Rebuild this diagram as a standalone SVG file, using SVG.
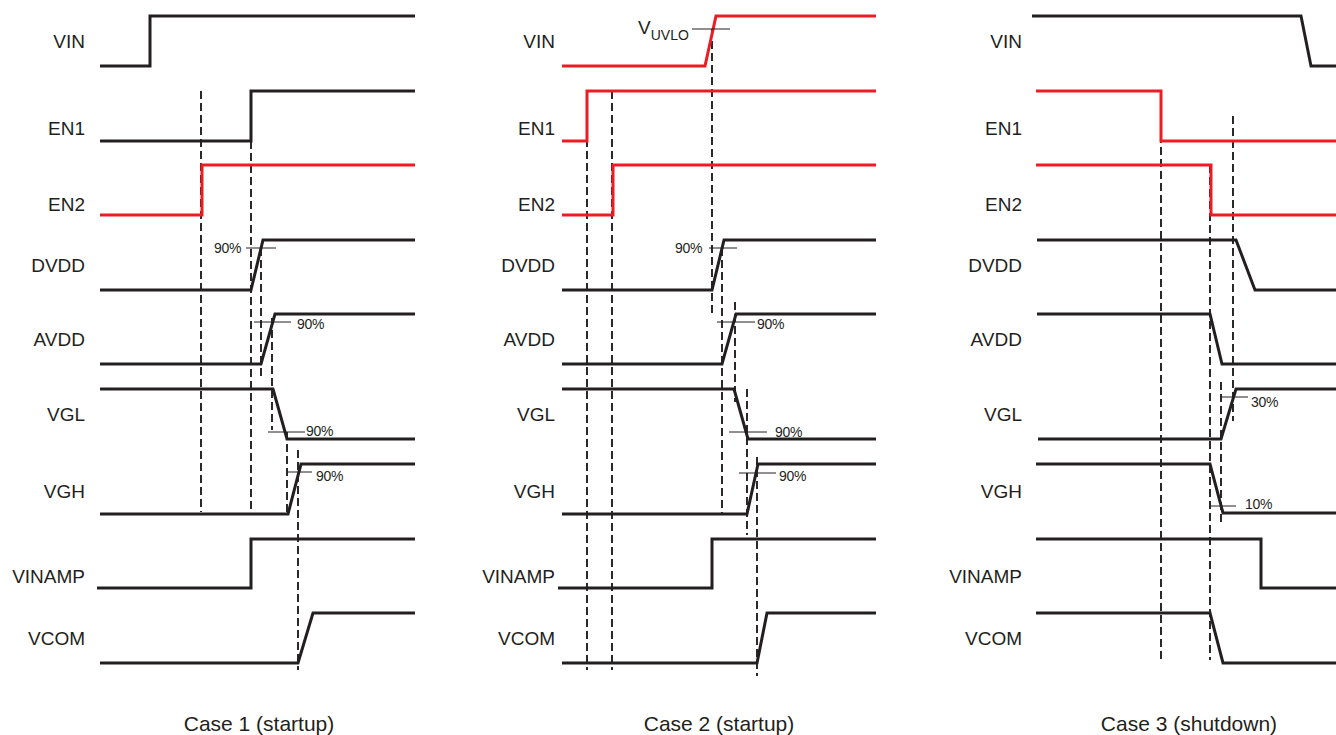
<svg xmlns="http://www.w3.org/2000/svg" width="1336" height="735" viewBox="0 0 1336 735">
<style>
.bg{fill:#fff}
.s{fill:none;stroke:#231f20;stroke-width:3;stroke-linejoin:miter;stroke-linecap:butt}
.r{fill:none;stroke:#ed1c24;stroke-width:3;stroke-linejoin:miter;stroke-linecap:butt}
.d{fill:none;stroke:#231f20;stroke-width:1.9;stroke-dasharray:8 4}
.m{fill:none;stroke:#231f20;stroke-width:1}
.lbl{font-family:"Liberation Sans",Arial,sans-serif;font-size:19px;fill:#231f20;text-anchor:end}
.pct{font-family:"Liberation Sans",Arial,sans-serif;font-size:14px;fill:#231f20;letter-spacing:-0.3px}
.cap{font-family:"Liberation Sans",Arial,sans-serif;font-size:21px;fill:#231f20;text-anchor:middle}
</style>
<rect class="bg" width="1336" height="735"/>

<g id="connectors">
  <!-- case 1 -->
  <line class="d" x1="201" y1="91" x2="201" y2="512"/>
  <line class="d" x1="251" y1="141" x2="251" y2="512"/>
  <line class="d" x1="261" y1="248" x2="261" y2="377"/>
  <line class="d" x1="272" y1="318" x2="272" y2="430"/>
  <line class="d" x1="287" y1="432" x2="287" y2="516"/>
  <line class="d" x1="298" y1="450" x2="298" y2="670"/>
  <!-- case 2 -->
  <line class="d" x1="587" y1="91" x2="587" y2="670"/>
  <line class="d" x1="612" y1="91" x2="612" y2="670"/>
  <line class="d" x1="712" y1="29" x2="712" y2="314"/>
  <line class="d" x1="722" y1="248" x2="722" y2="514"/>
  <line class="d" x1="735" y1="302" x2="735" y2="402"/>
  <line class="d" x1="747" y1="389" x2="747" y2="535"/>
  <line class="d" x1="757" y1="457" x2="757" y2="676"/>
  <!-- case 3 -->
  <line class="d" x1="1161" y1="123" x2="1161" y2="663"/>
  <line class="d" x1="1210" y1="165" x2="1210" y2="660"/>
  <line class="d" x1="1233" y1="116" x2="1233" y2="421"/>
  <line class="d" x1="1221" y1="382" x2="1221" y2="522"/>
</g>

<!-- ===== Case 1 ===== -->
<g id="c1-VIN">
  <text class="lbl" x="85" y="48">VIN</text>
  <path class="s" d="M100,66 H150 V16 H415"/>
</g>
<g id="c1-EN1">
  <text class="lbl" x="85" y="135">EN1</text>
  <path class="s" d="M100,141 H251 V91 H415"/>
</g>
<g id="c1-EN2">
  <text class="lbl" x="85" y="211">EN2</text>
  <path class="r" d="M100,215 H202 V165 H415"/>
</g>
<g id="c1-DVDD">
  <text class="lbl" x="85" y="272">DVDD</text>
  <path class="s" d="M100,290 H251 L263,240 H415"/>
  <line class="m" x1="246" y1="248" x2="276" y2="248"/>
  <text class="pct" x="214" y="253">90%</text>
</g>
<g id="c1-AVDD">
  <text class="lbl" x="85" y="346">AVDD</text>
  <path class="s" d="M100,364 H261 L275,314 H415"/>
  <line class="m" x1="254" y1="322" x2="291" y2="322"/>
  <text class="pct" x="297" y="329">90%</text>
</g>
<g id="c1-VGL">
  <text class="lbl" x="85" y="421">VGL</text>
  <path class="s" d="M100,389 H273 L287,439 H415"/>
  <line class="m" x1="268" y1="432" x2="305" y2="432"/>
  <text class="pct" x="306" y="436">90%</text>
</g>
<g id="c1-VGH">
  <text class="lbl" x="85" y="498">VGH</text>
  <path class="s" d="M100,514 H288 L301,464 H415"/>
  <line class="m" x1="288" y1="472" x2="312" y2="472"/>
  <text class="pct" x="316" y="481">90%</text>
</g>
<g id="c1-VINAMP">
  <text class="lbl" x="85" y="583">VINAMP</text>
  <path class="s" d="M97,588 H251 V539 H415"/>
</g>
<g id="c1-VCOM">
  <text class="lbl" x="85" y="645">VCOM</text>
  <path class="s" d="M100,663 H298 L313,613 H415"/>
</g>
<text class="cap" x="259" y="731">Case 1 (startup)</text>

<!-- ===== Case 2 ===== -->
<g id="c2-VIN">
  <text class="lbl" x="555" y="48">VIN</text>
  <path class="r" d="M562,66 H705 L716,16 H876"/>
  <line class="m" x1="692" y1="29" x2="730" y2="29"/>
  <text font-family="Liberation Sans, Arial, sans-serif" fill="#231f20" x="638" y="34" font-size="19">V<tspan font-size="14" dy="6">UVLO</tspan></text>
</g>
<g id="c2-EN1">
  <text class="lbl" x="555" y="135">EN1</text>
  <path class="r" d="M562,141 H587 V91 H876"/>
</g>
<g id="c2-EN2">
  <text class="lbl" x="555" y="211">EN2</text>
  <path class="r" d="M562,215 H613 V165 H876"/>
</g>
<g id="c2-DVDD">
  <text class="lbl" x="555" y="272">DVDD</text>
  <path class="s" d="M562,290 H712 L724,240 H876"/>
  <line class="m" x1="709" y1="248" x2="737" y2="248"/>
  <text class="pct" x="675" y="253">90%</text>
</g>
<g id="c2-AVDD">
  <text class="lbl" x="555" y="346">AVDD</text>
  <path class="s" d="M562,364 H722 L736,314 H876"/>
  <line class="m" x1="717" y1="322" x2="755" y2="322"/>
  <text class="pct" x="757" y="329">90%</text>
</g>
<g id="c2-VGL">
  <text class="lbl" x="555" y="421">VGL</text>
  <path class="s" d="M562,389 H734 L748,439 H876"/>
  <line class="m" x1="729" y1="432" x2="767" y2="432"/>
  <text class="pct" x="775" y="437">90%</text>
</g>
<g id="c2-VGH">
  <text class="lbl" x="555" y="498">VGH</text>
  <path class="s" d="M562,514 H747 L758,464 H876"/>
  <line class="m" x1="739" y1="473" x2="776" y2="473"/>
  <text class="pct" x="779" y="481">90%</text>
</g>
<g id="c2-VINAMP">
  <text class="lbl" x="555" y="583">VINAMP</text>
  <path class="s" d="M558,588 H712 V539 H876"/>
</g>
<g id="c2-VCOM">
  <text class="lbl" x="555" y="645">VCOM</text>
  <path class="s" d="M562,663 H757 L767,613 H876"/>
</g>
<text class="cap" x="719" y="731">Case 2 (startup)</text>

<!-- ===== Case 3 ===== -->
<g id="c3-VIN">
  <text class="lbl" x="1022" y="48">VIN</text>
  <path class="s" d="M1032,16 H1301 L1311,66 H1336"/>
</g>
<g id="c3-EN1">
  <text class="lbl" x="1022" y="135">EN1</text>
  <path class="r" d="M1036,91 H1161 V141 H1336"/>
</g>
<g id="c3-EN2">
  <text class="lbl" x="1022" y="211">EN2</text>
  <path class="r" d="M1036,165 H1211 V215 H1336"/>
</g>
<g id="c3-DVDD">
  <text class="lbl" x="1022" y="272">DVDD</text>
  <path class="s" d="M1037,240 H1236 L1255,290 H1336"/>
</g>
<g id="c3-AVDD">
  <text class="lbl" x="1022" y="346">AVDD</text>
  <path class="s" d="M1037,314 H1210 L1222,364 H1336"/>
</g>
<g id="c3-VGL">
  <text class="lbl" x="1022" y="421">VGL</text>
  <path class="s" d="M1038,439 H1221 L1236,389 H1336"/>
  <line class="m" x1="1220" y1="397" x2="1248" y2="397"/>
  <text class="pct" x="1251" y="407">30%</text>
</g>
<g id="c3-VGH">
  <text class="lbl" x="1022" y="498">VGH</text>
  <path class="s" d="M1036,464 H1210 L1223,513 H1336"/>
  <line class="m" x1="1211" y1="506" x2="1236" y2="506"/>
  <text class="pct" x="1245" y="509">10%</text>
</g>
<g id="c3-VINAMP">
  <text class="lbl" x="1022" y="583">VINAMP</text>
  <path class="s" d="M1036,539 H1261 V588 H1336"/>
</g>
<g id="c3-VCOM">
  <text class="lbl" x="1022" y="645">VCOM</text>
  <path class="s" d="M1036,613 H1210 L1223,663 H1336"/>
</g>
<text class="cap" x="1189" y="731">Case 3 (shutdown)</text>
</svg>
